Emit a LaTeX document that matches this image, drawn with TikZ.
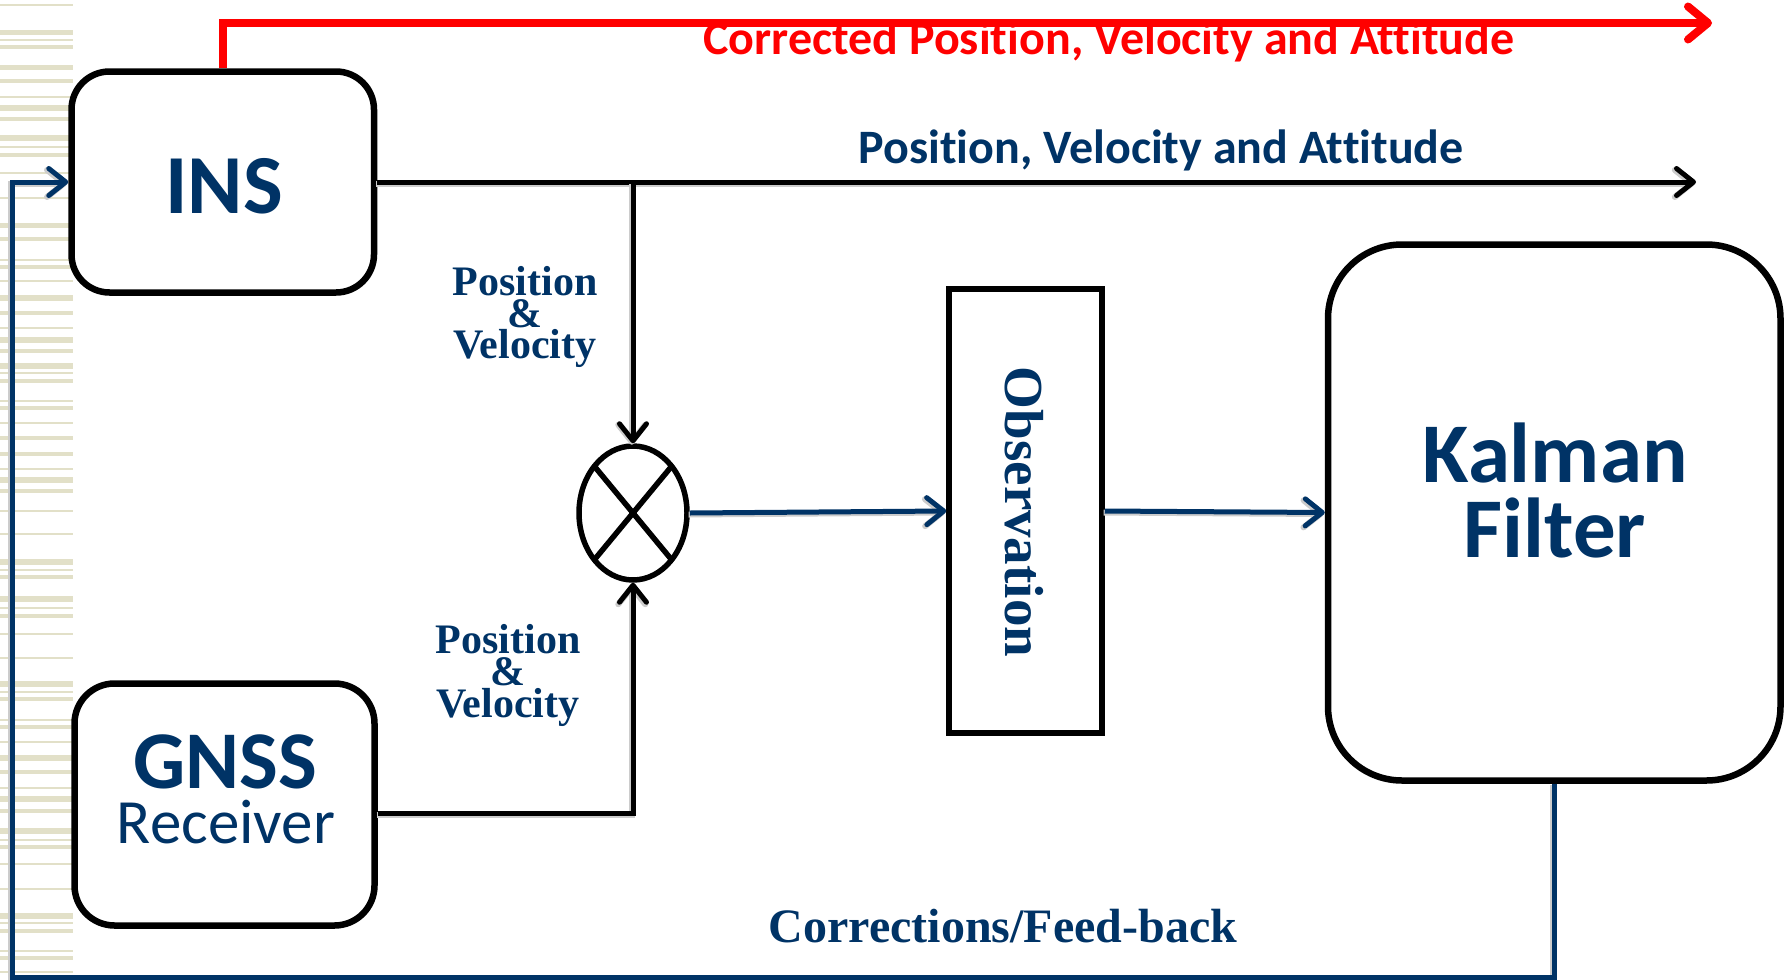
\documentclass[tikz,border=0pt]{standalone}
\usepackage{fontspec}
\newfontfamily\carlito[Ligatures=CommonOff]{Carlito}
\newfontfamily\lserif{Liberation Serif}
\usetikzlibrary{arrows.meta,shapes.geometric,calc}
\definecolor{navy}{RGB}{0,51,102}
\definecolor{stripe}{RGB}{226,224,200}
\definecolor{corrred}{RGB}{255,0,0}
\begin{document}
\begin{tikzpicture}[x=1pt,y=-1pt,
  softshadow/.style={preaction={draw=black!20, line width=6pt,
    transform canvas={shift={(-1.2pt,-1.5pt)}}}},
  blockbox/.style={draw=black, line width=6.5pt, fill=white, inner sep=0pt},
  conn/.style={line width=5pt, draw=black, softshadow},
  fbline/.style={line width=5pt, draw=navy, softshadow},
  redline/.style={line width=8pt, draw=corrred},
  arrowend/.style={-{Straight Barb[length=17pt,width=27pt,round]}},
  bigarrowend/.style={-{Straight Barb[length=20pt,width=33pt,round]}},
  sanslbl/.style={text=navy, inner sep=0pt, anchor=base},
  seriflbl/.style={text=navy, inner sep=0pt, anchor=base,
    font=\lserif\bfseries\fontsize{42}{42}\selectfont},
]
\useasboundingbox (0,0) rectangle (1789,980);

% decorative stripes along the left margin
\foreach \yy/\hh in {5/2.5, 32/5, 40/2, 47/3.5, 67/5, 81/3.5, 97/2, 108/6.5,
  119/3.5, 138/6.5, 147/2, 155/3.5, 173/2, 198/2, 225/5, 239/3.5,
  260/2, 267/3.5, 281/2, 298/5.5, 313/3.5, 328/2, 340/6.5, 351/3.5,
  366/6, 373/2, 381/3.5, 401/2, 408/3.5, 423/2, 438/3.5, 454/3.5,
  469/2, 480/6, 491/3.5, 511/2, 534/2, 562/5.5, 570/2, 577/3.5,
  599/6.5, 608/2, 616/3.5, 634/2, 658/2, 684/5.5, 692/2, 699/3.5,
  720/2, 727/3.5, 742/2, 758/5.5, 772/3.5, 788/2, 799/6.5, 811/3.5,
  831/6.5, 840/2, 847/3.5, 864/2, 889/2, 916/5.5, 923/2, 931/3.5,
  951/2, 958/3.5, 972/2}
  \fill[stripe] (0,\yy-\hh/2) rectangle (73,\yy+\hh/2);

% junction points of the connectors
\coordinate (redend) at (1712,23);
\coordinate (pvaend) at (1696,182);
\coordinate (tap) at (633,182);
\coordinate (gtap) at (633,813);
\coordinate (fbcorner) at (1554,977);
\coordinate (fbleft) at (12.5,977);

% blocks
\node[blockbox, rounded corners=38pt, minimum width=302.5pt, minimum height=221pt] (ins) at (222.75,182) {};
\node[blockbox, rounded corners=40pt, minimum width=300pt, minimum height=242pt] (gnss) at (224.5,804.5) {};
\node[blockbox, rounded corners=74pt, minimum width=452.5pt, minimum height=536pt] (kf) at (1554.25,512.5) {};
\node[blockbox, line width=5.5pt, minimum width=153pt, minimum height=444pt] (obs) at (1025.5,511) {};
\node[ellipse, draw=black, line width=5.5pt, fill=white, inner sep=0pt,
  minimum width=108pt, minimum height=134pt] (sum) at (633,513) {};
\draw[line width=5.5pt] ($(sum.center)+(-38,-46)$) -- ($(sum.center)+(38,46)$);
\draw[line width=5.5pt] ($(sum.center)+(38,-46)$) -- ($(sum.center)+(-38,46)$);

% connectors
\draw[redline, bigarrowend] (ins.north) -- (ins.north |- redend) -- (redend);
\draw[conn, arrowend] (ins.east) -- (pvaend);
\draw[conn, arrowend] (tap) -- (sum.north);
\draw[conn, arrowend] (gnss.east |- gtap) -- (gtap) -- (sum.south);
\draw[fbline, arrowend] (sum.east) -- (obs.west);
\draw[fbline, arrowend] (obs.east) -- (kf.west);
\draw[fbline, arrowend] (kf.south) -- (kf.south |- fbcorner) -- (fbleft) -- (fbleft |- ins.west) -- (ins.west);

% labels
\node[sanslbl, font=\carlito\bfseries\fontsize{84}{84}\selectfont] (inslbl) at (224,213) {INS};
\node[sanslbl, font=\carlito\bfseries\fontsize{82}{82}\selectfont] (gnsslbl) at (225,788) {GNSS};
\node[sanslbl, font=\carlito\fontsize{63}{63}\selectfont] (rcvlbl) at (226,843) {Receiver};
\node[sanslbl, font=\carlito\bfseries\fontsize{85}{85}\selectfont] (kflbla) at (1555,482) {Kalman};
\node[sanslbl, font=\carlito\bfseries\fontsize{85}{85}\selectfont] (kflblb) at (1555,557) {Filter};
\node[sanslbl, text=corrred, font=\carlito\bfseries\fontsize{48}{48}\selectfont] (corrlbl) at (1109,54) {Corrected Position, Velocity and Attitude};
\node[sanslbl, font=\carlito\bfseries\fontsize{48}{48}\selectfont] (pvalbl) at (1161,163) {Position, Velocity and Attitude};

\node[seriflbl] (pva) at (525,295) {Position};
\node[seriflbl] (pvb) at (525,327) {\&};
\node[seriflbl] (pvc) at (525,358) {Velocity};
\node[seriflbl] (pvd) at (508,653) {Position};
\node[seriflbl] (pve) at (508,685) {\&};
\node[seriflbl] (pvf) at (508,717) {Velocity};

\node[seriflbl, rotate=-90, font=\lserif\bfseries\fontsize{55}{55}\selectfont] (obslbl) at (1005,512) {Observation};
\node[seriflbl, font=\lserif\bfseries\fontsize{48}{48}\selectfont] (fblbl) at (1003,942) {Corrections/Feed-back};
\end{tikzpicture}
\end{document}
